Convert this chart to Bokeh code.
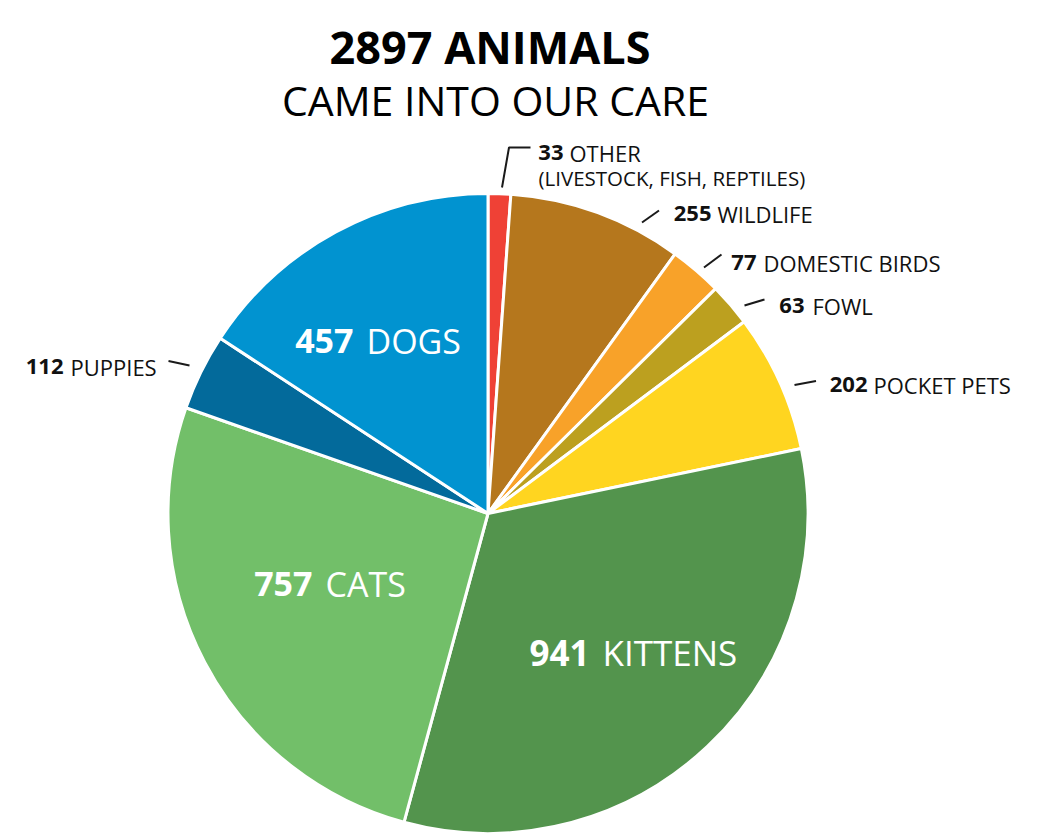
import math
from bokeh.plotting import figure
from bokeh.models import Range1d, ColumnDataSource
from bokeh.core.properties import value
from bokeh.embed import file_html
from bokeh.resources import INLINE

# ---------------- data ----------------
categories = ["OTHER", "WILDLIFE", "DOMESTIC BIRDS", "FOWL", "POCKET PETS",
              "KITTENS", "CATS", "PUPPIES", "DOGS"]
counts = [33, 255, 77, 63, 202, 941, 757, 112, 457]
colors = ["#EF4136", "#B5771D", "#F8A229", "#BCA01F", "#FFD520",
          "#53944D", "#72BF69", "#036A9B", "#0193D0"]
title_text = "2897 ANIMALS"
subtitle_text = "CAME INTO OUR CARE"
other_note = "(LIVESTOCK, FISH, REPTILES)"

# ---------------- layout (page pixel coords) ----------------
W, H = 1045, 834
FONT = "Open Sans"

def Y(py):
    return H - py

CX, CY, R = 487.5, Y(513), 320

# label anchors: (x where the name starts, baseline y, font size px, colour, gap)
label_layout = {
    "OTHER":          (569, 152, 22, "#111111", 6),
    "WILDLIFE":       (717, 213, 22, "#111111", 6),
    "DOMESTIC BIRDS": (763, 262, 22, "#111111", 7),
    "FOWL":           (812, 305, 22, "#111111", 8),
    "POCKET PETS":    (873, 384, 22, "#111111", 6),
    "PUPPIES":        (70, 366, 22, "#111111", 7),
    "DOGS":           (366, 340, 34, "#FFFFFF", 13),
    "CATS":           (325, 583, 34, "#FFFFFF", 13),
    "KITTENS":        (602, 652, 35, "#FFFFFF", 13),
}
# leader lines (page coords)
leaders = {
    "OTHER":          [(501.5, 187), (508.5, 147), (530, 147)],
    "WILDLIFE":       [(641.5, 222), (658.5, 210)],
    "DOMESTIC BIRDS": [(703.5, 267), (721, 254)],
    "FOWL":           [(744, 305), (764, 299)],
    "POCKET PETS":    [(794, 384.5), (815.5, 380.5)],
    "PUPPIES":        [(168, 360.5), (189, 365)],
}

# ---------------- figure ----------------
p = figure(width=W, height=H, output_backend="svg", toolbar_location=None,
           x_range=Range1d(0, W), y_range=Range1d(0, H),
           x_axis_type=None, y_axis_type=None, min_border=0,
           outline_line_color=None, background_fill_color="white",
           border_fill_color="white")
p.grid.visible = False

total = sum(counts)
starts, ends = [], []
cum = 0
for c in counts:
    starts.append(math.pi / 2 - 2 * math.pi * cum / total)
    cum += c
    ends.append(math.pi / 2 - 2 * math.pi * cum / total)

src = ColumnDataSource(dict(cat=categories, count=counts, color=colors,
                            start=starts, end=ends))
p.wedge(x=CX, y=CY, radius=R, start_angle="start", end_angle="end",
        direction="clock", fill_color="color", line_color="white",
        line_width=3, source=src)

# leader lines
for cat, pts in leaders.items():
    p.line([q[0] for q in pts], [Y(q[1]) for q in pts], line_color="#1a1a1a",
           line_width=2)

# labels: bold count right-aligned before the regular-weight name
for cat, cnt in zip(categories, counts):
    xl, yb, fs, col, gap = label_layout[cat]
    p.text(x=[xl - gap], y=[Y(yb)], text=[str(cnt)], text_font=value(FONT),
           text_font_size=f"{fs}px", text_font_style="bold", text_color=col,
           text_align="right", text_baseline="alphabetic")
    p.text(x=[xl], y=[Y(yb)], text=[cat], text_font=value(FONT),
           text_font_size=f"{fs}px", text_color=col,
           text_align="left", text_baseline="alphabetic")

p.text(x=[538], y=[Y(177)], text=[other_note], text_font=value(FONT),
       text_font_size="20.5px", text_color="#111111",
       text_align="left", text_baseline="alphabetic")

# titles
p.text(x=[489.5], y=[Y(46)], text=[title_text], text_font=value(FONT),
       text_font_size="45px", text_font_style="bold", text_color="#000000",
       text_align="center", text_baseline="alphabetic")
p.text(x=[495], y=[Y(99)], text=[subtitle_text], text_font=value(FONT),
       text_font_size="41px", text_color="#000000",
       text_align="center", text_baseline="alphabetic")

open("out.html", "w").write(file_html(p, INLINE))
